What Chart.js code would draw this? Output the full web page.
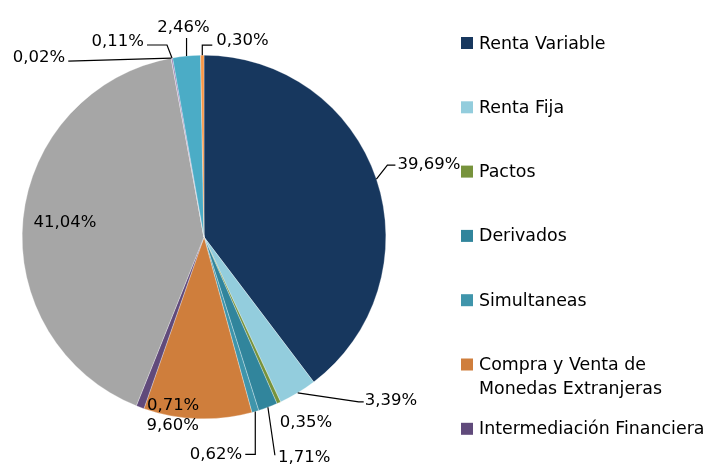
<!DOCTYPE html>
<html>
<head>
<meta charset="utf-8">
<script src="https://cdn.jsdelivr.net/npm/chart.js@4/dist/chart.umd.min.js"></script>
<style>
  html, body { margin: 0; padding: 0; background: #ffffff; }
  #wrap { width: 708px; height: 465px; position: relative; }
</style>
</head>
<body>
<div id="wrap"><canvas id="c" width="708" height="465"></canvas></div>
<script>
// ---- data ----
const categories = [
  'Renta Variable',
  'Renta Fija',
  'Pactos',
  'Derivados',
  'Simultaneas',
  ['Compra y Venta de', 'Monedas Extranjeras'],
  'Intermediación Financiera',
  'Otros Ingresos',
  'Categoría 9',
  'Categoría 10',
  'Categoría 11',
  'Categoría 12'
];
const shares = [39.69, 3.39, 0.35, 1.71, 0.62, 9.60, 0.71, 41.04, 0.02, 0.11, 2.46, 0.30];
const shareLabels = ['39,69%', '3,39%', '0,35%', '1,71%', '0,62%', '9,60%', '0,71%', '41,04%', '0,02%', '0,11%', '2,46%', '0,30%'];
const legendCount = 7;

// ---- styles ----
const sliceColors = ['#17375E', '#93CDDD', '#77933C', '#31859C', '#3F95AB', '#CF7E3C', '#604A7B',
                     '#A6A6A6', '#8C6FAF', '#8064A2', '#4BACC6', '#F79646'];

// label layout: offsets relative to the slice's outer mid-point
const labelLayout = [
  { pts: [[11, -14], [19, -14]], text: [21, -14], align: 'left' },
  { pts: [[61, 9], [66, 9]], text: [67, 8], align: 'left' },
  { pts: [], text: [1, 20], align: 'left' },
  { pts: [[7, 48]], text: [10, 50], align: 'left' },
  { pts: [[0, 43], [-10, 43]], text: [-13, 43], align: 'right' },
  { pts: [], text: [-25, 7], align: 'center' },
  { pts: [], text: [33, -2], align: 'center' },
  { pts: [], text: [42, 4], align: 'center' },
  { pts: [[-103, 3]], text: [-106, 0], align: 'right' },
  { pts: [[-5, -13], [-25, -13]], text: [-28, -16], align: 'right' },
  { pts: [[0, -18]], text: [-3, -28], align: 'center' },
  { pts: [[0, -10], [10, -10]], text: [14, -14], align: 'left' }
];

const FONT = '"DejaVu Sans", sans-serif';

const labelPlugin = {
  id: 'pieLabels',
  afterDatasetsDraw(chart) {
    const ctx = chart.ctx;
    const meta = chart.getDatasetMeta(0);
    ctx.save();
    ctx.font = '16.5px ' + FONT;
    ctx.fillStyle = '#000';
    ctx.strokeStyle = '#000';
    ctx.lineWidth = 1.2;
    ctx.textBaseline = 'middle';
    meta.data.forEach((arc, i) => {
      const p = arc.getProps(['x', 'y', 'startAngle', 'endAngle', 'outerRadius'], true);
      const mid = (p.startAngle + p.endAngle) / 2;
      const ex = p.x + Math.cos(mid) * p.outerRadius;
      const ey = p.y + Math.sin(mid) * p.outerRadius;
      const L = labelLayout[i];
      if (L.pts.length) {
        ctx.beginPath();
        ctx.moveTo(ex, ey);
        L.pts.forEach(q => ctx.lineTo(ex + q[0], ey + q[1]));
        ctx.stroke();
      }
      ctx.textAlign = L.align;
      ctx.fillText(shareLabels[i], ex + L.text[0], ey + L.text[1]);
    });
    ctx.restore();
  }
};

const legendPlugin = {
  id: 'sideLegend',
  afterDraw(chart) {
    const ctx = chart.ctx;
    const labels = chart.data.labels;
    const colors = chart.data.datasets[0].backgroundColor;
    ctx.save();
    ctx.font = '17.4px ' + FONT;
    ctx.textBaseline = 'middle';
    ctx.textAlign = 'left';
    const x0 = 461, y0 = 44, step = 64.3, lineH = 24;
    for (let i = 0; i < legendCount; i++) {
      const y = y0 + i * step;
      ctx.fillStyle = colors[i];
      ctx.fillRect(x0, y - 7, 12, 12);
      ctx.fillStyle = '#000';
      const lines = Array.isArray(labels[i]) ? labels[i] : [labels[i]];
      lines.forEach((t, k) => ctx.fillText(t, x0 + 18, y + k * lineH));
    }
    ctx.restore();
  }
};

new Chart(document.getElementById('c'), {
  type: 'pie',
  data: {
    labels: categories,
    datasets: [{
      data: shares,
      backgroundColor: sliceColors,
      borderColor: '#ffffff',
      borderWidth: 0.3
    }]
  },
  options: {
    responsive: false,
    animation: false,
    layout: { padding: { top: 55, bottom: 46, left: 22, right: 322 } },
    plugins: {
      legend: { display: false },
      tooltip: { enabled: false }
    }
  },
  plugins: [labelPlugin, legendPlugin]
});
</script>
</body>
</html>
